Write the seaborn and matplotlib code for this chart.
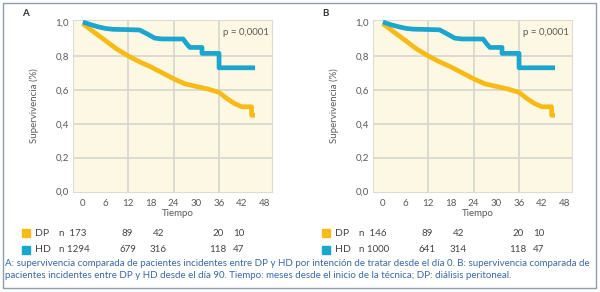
import numpy as np
import pandas as pd
import matplotlib
matplotlib.use("Agg")
import matplotlib.pyplot as plt
import matplotlib.transforms as mtransforms
import seaborn as sns

# Curvas de supervivencia (meses, proporcion)
meses_hd_a = [0, 2, 4, 6, 8, 12, 15, 17, 19, 21, 26.5, 27.5, 28.3, 31.5, 31.5, 36, 36, 45.5]
surv_hd_a = [1.0, 0.985, 0.972, 0.962, 0.957, 0.955, 0.953, 0.93, 0.905, 0.90, 0.90, 0.87, 0.85, 0.85, 0.815, 0.815, 0.73, 0.73]
meses_dp_a = [0, 3, 6, 9, 12, 15, 18, 21, 24, 27, 30, 33, 36, 38, 40, 42, 44.6, 44.6, 45.5]
surv_dp_a = [0.99, 0.94, 0.89, 0.84, 0.80, 0.765, 0.735, 0.70, 0.665, 0.635, 0.62, 0.605, 0.585, 0.55, 0.52, 0.50, 0.50, 0.45, 0.45]

meses_hd_b = [0, 2, 4, 6, 8, 12, 15, 17, 19, 21, 26.5, 27.5, 28.3, 31.5, 31.5, 36, 36, 45.5]
surv_hd_b = [1.0, 0.985, 0.973, 0.963, 0.958, 0.956, 0.954, 0.93, 0.905, 0.90, 0.90, 0.87, 0.85, 0.85, 0.815, 0.815, 0.73, 0.73]
meses_dp_b = [0, 3, 6, 9, 12, 15, 18, 21, 24, 27, 30, 33, 36, 38, 40, 42, 44.6, 44.6, 45.5]
surv_dp_b = [0.99, 0.94, 0.89, 0.84, 0.80, 0.765, 0.735, 0.70, 0.665, 0.635, 0.62, 0.605, 0.585, 0.55, 0.52, 0.50, 0.50, 0.45, 0.45]

# Pacientes en riesgo
riesgo_dp_a = ["89", "42", "20", "10"]
riesgo_hd_a = ["679", "316", "118", "47"]
riesgo_dp_b = ["89", "42", "20", "10"]
riesgo_hd_b = ["641", "314", "118", "47"]
n_dp = ["173", "146"]
n_hd = ["1294", "1000"]

x_ticks = [0, 6, 12, 18, 24, 30, 36, 42, 48]
y_ticks = [0.0, 0.2, 0.4, 0.6, 0.8, 1.0]
y_labels = ["0,0", "0,2", "0,4", "0,6", "0,8", "1,0"]

c_dp = "#f8bb16"
c_hd = "#1ba6cf"
c_txt = "#5a5a5a"
c_cap = "#3a68a6"

sns.set_style("white")
plt.rcParams["font.family"] = ["Lato", "DejaVu Sans"]

fig = plt.figure(figsize=(6, 2.92), dpi=100)

paneles = [
    ("A", 73, meses_hd_a, surv_hd_a, meses_dp_a, surv_dp_a, riesgo_dp_a, riesgo_hd_a, n_dp[0], n_hd[0]),
    ("B", 373, meses_hd_b, surv_hd_b, meses_dp_b, surv_dp_b, riesgo_dp_b, riesgo_hd_b, n_dp[1], n_hd[1]),
]

W, H = 600, 292
for letra, x0, mh, sh, md, sd, rdp, rhd, ndp, nhd in paneles:
    ax = fig.add_axes([x0 / W, 1 - 192 / H, 199 / W, 172 / H])
    ax.set_facecolor("#fdf8e3")
    df_hd = pd.DataFrame({"t": mh, "s": sh})
    df_dp = pd.DataFrame({"t": md, "s": sd})
    sns.lineplot(data=df_dp, x="t", y="s", ax=ax, color=c_dp, lw=3.4,
                 estimator=None, sort=False, solid_capstyle="butt", zorder=3)
    sns.lineplot(data=df_hd, x="t", y="s", ax=ax, color=c_hd, lw=3.4,
                 estimator=None, sort=False, solid_capstyle="butt", zorder=3)
    ax.set_xlim(-2.6, 50)
    ax.set_ylim(-0.003, 1.012)
    for g in [0.2, 0.4, 0.6, 0.8]:
        ax.axhline(g, color="#d6d6cf", lw=1.2, zorder=1)
    for g in [12, 24, 36]:
        ax.axvline(g, color="#d6d6cf", lw=1.2, zorder=1)
    for s in ax.spines.values():
        s.set_color("#dcdcd4")
        s.set_linewidth(0.8)
    ax.set_xticks(x_ticks)
    ax.set_xticklabels([str(v) for v in x_ticks])
    ax.set_yticks(y_ticks)
    ax.set_yticklabels(y_labels)
    ax.tick_params(axis="both", length=0, labelsize=7, colors=c_txt, pad=3)
    ax.tick_params(axis="x", pad=5)
    ax.set_xlabel("")
    ax.set_ylabel("Supervivencia (%)", fontsize=7, color=c_txt, labelpad=12)
    ax.text(25, -0.13, "Tiempo", fontsize=7, color=c_txt, ha="center", va="center",
            transform=ax.transData, clip_on=False)
    ax.text(0.985, 0.925, "p = 0,0001", fontsize=7, color=c_txt, ha="right", va="center",
            transform=ax.transAxes)
    fig.text((x0 - 48) / W, 1 - 13 / H, letra, fontsize=7, fontweight="bold", color="#333333",
             ha="center", va="center")

    # tabla de pacientes en riesgo
    tr = mtransforms.blended_transform_factory(ax.transData, fig.transFigure)
    y_dp = 1 - 233 / H
    y_hd = 1 - 250 / H
    for yy, col, nom in [(y_dp, c_dp, "DP"), (y_hd, c_hd, "HD")]:
        fig.patches.append(plt.Rectangle(((x0 - 51) / W, yy - 4 / H), 8 / W, 8 / H,
                                         transform=fig.transFigure, color=col, figure=fig))
        fig.text((x0 - 38) / W, yy, nom, fontsize=7.5, color="#444444", va="center")
    fig.text((x0 - 14) / W, y_dp, "n  " + ndp, fontsize=7, color="#444444", va="center")
    fig.text((x0 - 14) / W, y_hd, "n " + nhd, fontsize=7, color="#444444", va="center")
    cols = [11.8, 20, 35.8, 41.2]
    for xc, a, b in zip(cols, rdp, rhd):
        ax.text(xc, y_dp, a, transform=tr, fontsize=7, color="#444444", ha="center", va="center")
        ax.text(xc, y_hd, b, transform=tr, fontsize=7, color="#444444", ha="center", va="center")

fig.text(5 / W, 1 - 264 / H,
         "A: supervivencia comparada de pacientes incidentes entre DP y HD por intención de tratar desde el día 0. B: supervivencia comparada de",
         fontsize=7.05, color=c_cap, va="center")
fig.text(5 / W, 1 - 276 / H,
         "pacientes incidentes entre DP y HD desde el día 90. Tiempo: meses desde el inicio de la técnica; DP: diálisis peritoneal.",
         fontsize=7.05, color=c_cap, va="center")

# marco exterior
fig.patches.append(plt.Rectangle((3 / W, 1 - 288 / H), 593 / W, 285 / H, transform=fig.transFigure,
                                 fill=False, edgecolor="#8d9db0", lw=1, figure=fig))

fig.savefig("out.png", dpi=100)
